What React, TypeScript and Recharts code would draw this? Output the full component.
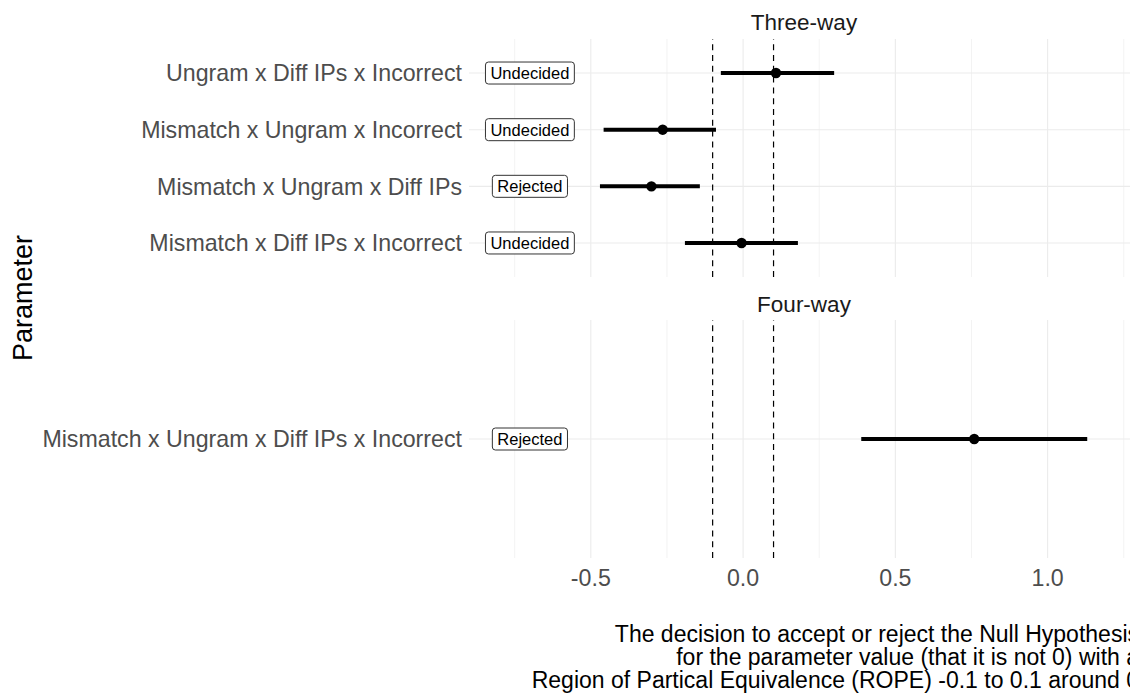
import React from 'react';
import { ScatterChart, Scatter, XAxis, YAxis, ReferenceLine, ErrorBar } from 'recharts';

// ---------- data ----------
const threeWayParams = [
  'Ungram x Diff IPs x Incorrect',
  'Mismatch x Ungram x Incorrect',
  'Mismatch x Ungram x Diff IPs',
  'Mismatch x Diff IPs x Incorrect',
];
const threeWayEstimate = [0.108, -0.264, -0.301, -0.005];
const threeWayLower = [-0.073, -0.458, -0.47, -0.191];
const threeWayUpper = [0.299, -0.089, -0.142, 0.18];
const threeWayDecision = ['Undecided', 'Undecided', 'Rejected', 'Undecided'];

const fourWayParams = ['Mismatch x Ungram x Diff IPs x Incorrect'];
const fourWayEstimate = [0.759];
const fourWayLower = [0.388];
const fourWayUpper = [1.13];
const fourWayDecision = ['Rejected'];

const xTicks = [-0.5, 0, 0.5, 1.0];
const xMinorTicks = [-0.75, -0.25, 0.25, 0.75, 1.25];
const ropeBounds = [-0.1, 0.1];
const facetTitles = ['Three-way', 'Four-way'];
const xTitleLines = [
  'The decision to accept or reject the Null Hypothesis',
  'for the parameter value (that it is not 0) with a',
  'Region of Partical Equivalence (ROPE) -0.1 to 0.1 around 0',
];
const yTitle = 'Parameter';

const LABEL_X = -0.7;
const X_DOMAIN: [number, number] = [-0.9, 1.3];
const FONT = '"Liberation Sans", Arial, Helvetica, sans-serif';

// ---------- helpers ----------
function buildPoints(params: string[], est: number[], lo: number[], hi: number[]) {
  return params.map((p, i) => ({ param: p, x: est[i], err: [est[i] - lo[i], hi[i] - est[i]] }));
}
function buildLabels(params: string[], decision: string[]) {
  return params.map((p, i) => ({ param: p, x: LABEL_X, decision: decision[i] }));
}

let ctx: CanvasRenderingContext2D | null = null;
function measure(text: string, font: string) {
  if (!ctx) ctx = document.createElement('canvas').getContext('2d');
  if (!ctx) return text.length * 8;
  ctx.font = font;
  return ctx.measureText(text).width;
}

const LabelShape = (props: any) => {
  const { cx, cy, payload } = props;
  const label = payload.decision as string;
  const fs = 16.5;
  const w = measure(label, `${fs}px "Liberation Sans"`) + 10;
  const h = 22;
  return (
    <g>
      <rect x={cx - w / 2} y={cy - h / 2} width={w} height={h} rx={3} ry={3} fill="#fff" stroke="#333" strokeWidth={1} />
      <text x={cx} y={cy} dy="0.36em" textAnchor="middle" fontSize={fs} fontFamily={FONT} fill="#000">
        {label}
      </text>
    </g>
  );
};

const PointShape = (props: any) => <circle cx={props.cx} cy={props.cy} r={5.2} fill="#000" />;

const tickStyle = { fontSize: 23.2, fill: '#4D4D4D', fontFamily: FONT };

function Panel(props: {
  params: string[];
  points: any[];
  labels: any[];
  height: number;
  margin: { top: number; bottom: number };
  showX: boolean;
  xHeight: number;
  yPad: number;
}) {
  const { params, points, labels, height, margin, showX, xHeight, yPad } = props;
  return (
    <ScatterChart width={1160} height={height} margin={{ top: margin.top, bottom: margin.bottom, left: 0, right: 21 }}>
      {xMinorTicks.map((v) => (
        <ReferenceLine key={'m' + v} x={v} stroke="#EBEBEB" strokeWidth={0.6} />
      ))}
      {xTicks.map((v) => (
        <ReferenceLine key={'g' + v} x={v} stroke="#EBEBEB" strokeWidth={1.1} />
      ))}
      {params.map((p) => (
        <ReferenceLine key={'h' + p} y={p} stroke="#EBEBEB" strokeWidth={1.1} />
      ))}
      <XAxis
        type="number"
        dataKey="x"
        domain={X_DOMAIN}
        allowDataOverflow
        ticks={xTicks}
        tickFormatter={(v: number) => v.toFixed(1)}
        hide={!showX}
        height={xHeight}
        axisLine={false}
        tickLine={false}
        tickSize={0}
        tickMargin={12}
        tick={tickStyle}
        interval={0}
      />
      <YAxis
        type="category"
        dataKey="param"
        width={469}
        reversed
        allowDuplicatedCategory={false}
        axisLine={false}
        tickLine={false}
        tickSize={0}
        tickMargin={7}
        tick={tickStyle}
        interval={0}
        padding={{ top: yPad, bottom: yPad }}
      />
      {ropeBounds.map((v) => (
        <ReferenceLine key={'r' + v} x={v} stroke="#000" strokeWidth={1.2} strokeDasharray="6 4.8" />
      ))}
      <Scatter data={points} isAnimationActive={false} shape={PointShape}>
        <ErrorBar dataKey="err" direction="x" width={0} stroke="#000" strokeWidth={4} isAnimationActive={false} />
      </Scatter>
      <Scatter data={labels} isAnimationActive={false} shape={LabelShape} />
    </ScatterChart>
  );
}

export default function App() {
  const threePoints = buildPoints(threeWayParams, threeWayEstimate, threeWayLower, threeWayUpper);
  const threeLabels = buildLabels(threeWayParams, threeWayDecision);
  const fourPoints = buildPoints(fourWayParams, fourWayEstimate, fourWayLower, fourWayUpper);
  const fourLabels = buildLabels(fourWayParams, fourWayDecision);

  return (
    <div style={{ position: 'fixed', left: 0, top: 0, width: 1130, height: 700, overflow: 'hidden', background: '#fff' }}>
      <div style={{ position: 'absolute', left: 0, top: 0 }}>
        <Panel
          params={threeWayParams}
          points={threePoints}
          labels={threeLabels}
          height={280}
          margin={{ top: 39, bottom: 3 }}
          showX={false}
          xHeight={0}
          yPad={5.7}
        />
      </div>
      <div style={{ position: 'absolute', left: 0, top: 280 }}>
        <Panel
          params={fourWayParams}
          points={fourPoints}
          labels={fourLabels}
          height={420}
          margin={{ top: 40, bottom: 0 }}
          showX
          xHeight={142}
          yPad={0}
        />
      </div>
      <svg width={1130} height={700} style={{ position: 'absolute', left: 0, top: 0, pointerEvents: 'none' }}>
        <text x={804} y={30} textAnchor="middle" fontSize={22.5} fontFamily={FONT} fill="#1A1A1A">
          {facetTitles[0]}
        </text>
        <text x={804} y={312} textAnchor="middle" fontSize={22.5} fontFamily={FONT} fill="#1A1A1A">
          {facetTitles[1]}
        </text>
        <text x={32} y={298} transform="rotate(-90 32 298)" textAnchor="middle" fontSize={27} fontFamily={FONT} fill="#000">
          {yTitle}
        </text>
        {xTitleLines.map((line, i) => (
          <text key={i} x={1139} y={642 + i * 23} textAnchor="end" fontSize={23} fontFamily={FONT} fill="#000">
            {line}
          </text>
        ))}
      </svg>
    </div>
  );
}
